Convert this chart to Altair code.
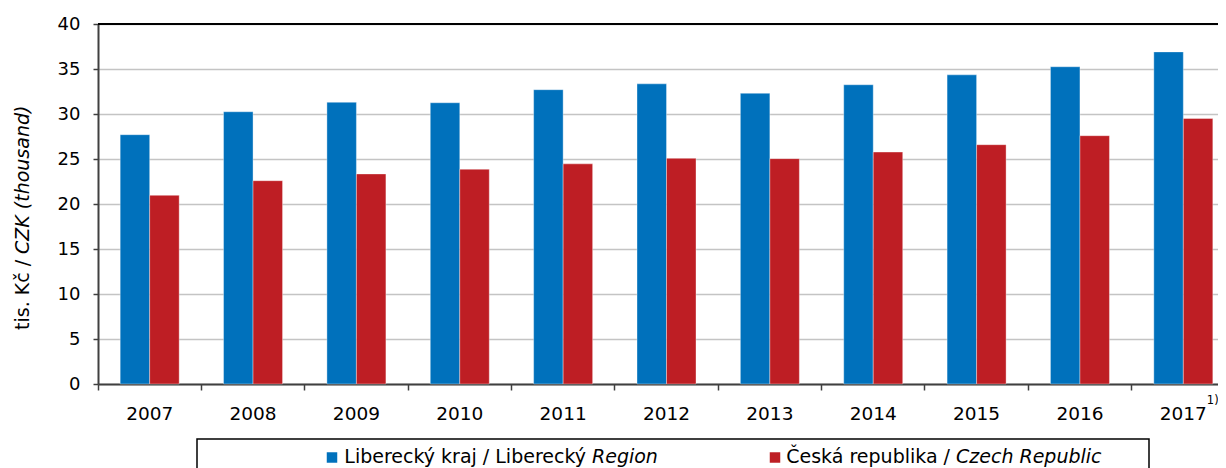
import altair as alt
import pandas as pd

# ---- data ----
YEARS = ["2007", "2008", "2009", "2010", "2011", "2012", "2013", "2014", "2015", "2016", "2017"]
LIBEREC = [27.7, 30.25, 31.3, 31.25, 32.7, 33.35, 32.3, 33.25, 34.35, 35.25, 36.9]
CZECH = [20.96, 22.59, 23.34, 23.86, 24.46, 25.07, 25.04, 25.77, 26.59, 27.59, 29.50]
SERIES = ["Liberecký kraj", "Česká republika"]
COLORS = ["#0071BC", "#BE1E24"]
Y_TICKS = [0, 5, 10, 15, 20, 25, 30, 35, 40]
LEGEND_REGULAR = ["Liberecký kraj / Liberecký", "Česká republika /"]
LEGEND_ITALIC = ["Region", "Czech Republic"]
Y_TITLE_REGULAR = "tis. Kč /"
Y_TITLE_ITALIC = "CZK (thousand)"
FOOTNOTE_YEAR = ["2017"]
FOOTNOTE_MARK = ["1)"]

rows = []
for i, yr in enumerate(YEARS):
    rows.append({"year": yr, "series": SERIES[0], "value": LIBEREC[i]})
    rows.append({"year": yr, "series": SERIES[1], "value": CZECH[i]})
df = pd.DataFrame(rows)
one = pd.DataFrame({"k": [0]})

FONT = "DejaVu Sans"
W, H = 1120, 360          # visible plot area (page keeps it inside the window)
X_RANGE = 1137            # the category axis runs on past the right edge, as in the source
AXIS_COL = "#404040"


def x_enc():
    return alt.X(
        "year:N", sort=YEARS,
        scale=alt.Scale(range=[0, X_RANGE], paddingInner=0, paddingOuter=0),
        axis=alt.Axis(title=None, labelAngle=0, labelFont=FONT, labelFontSize=18.5,
                      labelColor="black", labelPadding=14, tickSize=6, tickColor=AXIS_COL,
                      tickWidth=1.5, domainColor=AXIS_COL, domainWidth=2, bandPosition=0,
                      grid=False),
    )


y_enc = alt.Y(
    "value:Q", scale=alt.Scale(domain=[0, 40], nice=False),
    axis=alt.Axis(values=Y_TICKS, title=None, labelFont=FONT, labelFontSize=18,
                  labelColor="black", labelPadding=13, tickSize=5, tickColor=AXIS_COL,
                  tickWidth=1.5, domainColor=AXIS_COL, domainWidth=2, grid=True,
                  gridColor="#c4c4c4", gridWidth=1.5),
)

bars = alt.Chart(df).mark_bar(stroke="white", strokeWidth=0.6, strokeOpacity=0.6).encode(
    x=x_enc(),
    xOffset=alt.XOffset("series:N", sort=SERIES,
                        scale=alt.Scale(paddingInner=0, paddingOuter=0.752)),
    y=y_enc,
    color=alt.Color("series:N", scale=alt.Scale(domain=SERIES, range=COLORS), legend=None),
)

top_rule = alt.Chart(one).mark_rule(color="black", strokeWidth=2).encode(
    x=alt.value(0), x2=alt.value(W), y=alt.value(0)
)

legend_box = alt.Chart(one).mark_rect(fillOpacity=0, stroke="black", strokeWidth=1.5).encode(
    x=alt.value(99), x2=alt.value(1051), y=alt.value(415), y2=alt.value(475)
)

layers = [bars, top_rule, legend_box]

marker_x = [234, 677]
reg_x = [488, 852]
ital_x = [494, 858]
for i in range(2):
    layers.append(
        alt.Chart(one).mark_square(size=110, opacity=1).encode(
            x=alt.value(marker_x[i]), y=alt.value(433.5), color=alt.value(COLORS[i])
        )
    )
    layers.append(
        alt.Chart(one).mark_text(align="right", baseline="alphabetic", font=FONT,
                                 fontSize=19, color="black").encode(
            x=alt.value(reg_x[i]), y=alt.value(439), text=alt.value(LEGEND_REGULAR[i])
        )
    )
    layers.append(
        alt.Chart(one).mark_text(align="left", baseline="alphabetic", font=FONT,
                                 fontSize=19, fontStyle="italic", color="black").encode(
            x=alt.value(ital_x[i]), y=alt.value(439), text=alt.value(LEGEND_ITALIC[i])
        )
    )

# y axis title (mixed regular / italic)
layers.append(
    alt.Chart(one).mark_text(angle=270, align="left", baseline="middle", font=FONT,
                             fontSize=19, color="black").encode(
        x=alt.value(-75), y=alt.value(306), text=alt.value(Y_TITLE_REGULAR)
    )
)
layers.append(
    alt.Chart(one).mark_text(angle=270, align="left", baseline="middle", font=FONT,
                             fontSize=19, fontStyle="italic", color="black").encode(
        x=alt.value(-75), y=alt.value(230), text=alt.value(Y_TITLE_ITALIC)
    )
)

# footnote marker next to 2017
foot = pd.DataFrame({"year": FOOTNOTE_YEAR, "t": FOOTNOTE_MARK})
layers.append(
    alt.Chart(foot).mark_text(align="left", baseline="alphabetic", dx=23.5, font=FONT,
                              fontSize=11.5, color="black").encode(
        x=x_enc(), y=alt.value(380), text="t:N"
    )
)

chart = alt.layer(*layers).properties(
    width=W, height=H,
    autosize=alt.AutoSizeParams(type="none"),
    padding={"left": 90, "top": 16, "right": 0, "bottom": 84},
    background="white",
).configure_view(strokeWidth=0)

chart.save("out.html", embed_options={"renderer": "svg", "actions": False})
